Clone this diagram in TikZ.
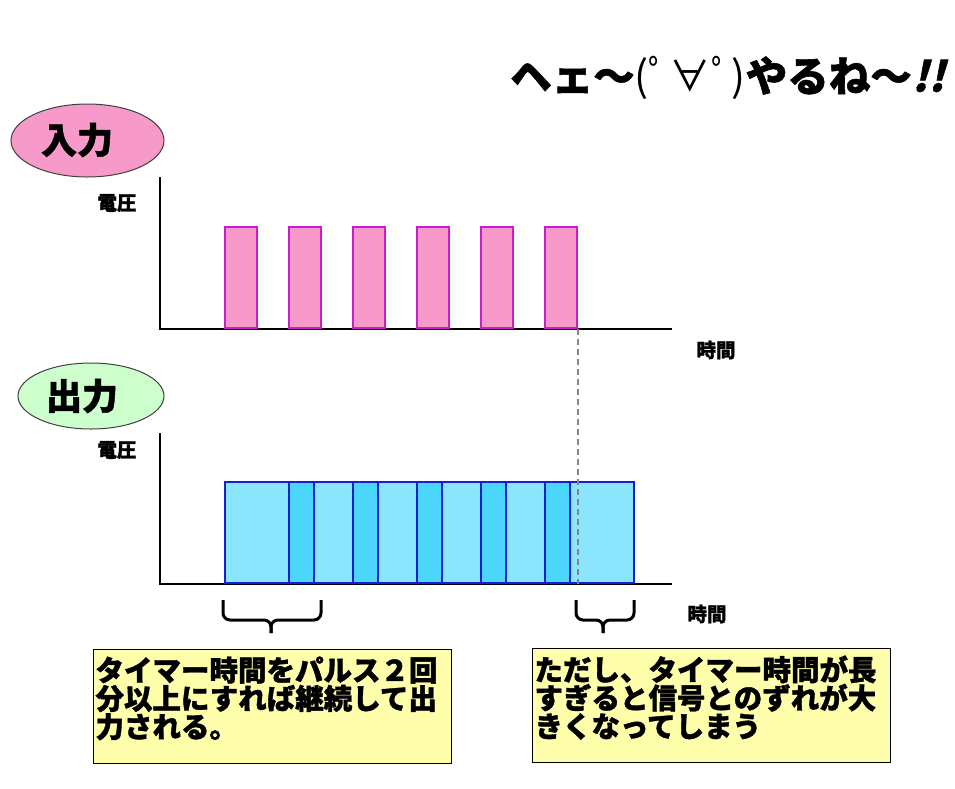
\documentclass[tikz,border=0pt]{standalone}
\usepackage{fontspec}
\setmainfont{Noto Sans CJK JP}[BoldFeatures={FakeBold=1.3}]
\newfontfamily\bangfont{Noto Sans CJK JP}[BoldFeatures={FakeSlant=0.25,FakeBold=1.3}]
\usetikzlibrary{shapes.geometric}

\definecolor{pulsepink}{rgb}{0.97,0.60,0.79}
\definecolor{pulseedge}{rgb}{0.78,0.12,0.80}
\definecolor{outcyan}{rgb}{0.00,0.78,0.98}
\definecolor{outedge}{rgb}{0.08,0.12,0.86}
\definecolor{notefill}{rgb}{1.00,1.00,0.67}
\definecolor{bubblegreen}{rgb}{0.80,1.00,0.80}
\definecolor{guidegray}{rgb}{0.52,0.52,0.52}

\newcommand{\notetext}[1]{\parbox[c][104pt][t]{354pt}{\bfseries\fontsize{28.5}{28.3}\selectfont\vspace*{2pt}#1}}

\tikzset{
  bubble/.style={ellipse, draw=black!75, line width=1pt, inner sep=0pt},
  bubbletext/.style={font=\bfseries\fontsize{36}{36}\selectfont, inner sep=0pt},
  axisline/.style={line width=2pt, black},
  axislabel/.style={font=\bfseries\fontsize{19.5}{19.5}\selectfont, inner sep=0pt},
  inpulse/.style={rectangle, fill=pulsepink, draw=pulseedge, line width=1.6pt,
    minimum width=32pt, minimum height=101pt, inner sep=0pt, anchor=south west},
  outfill/.style={rectangle, fill=outcyan, fill opacity=0.46, line width=0pt,
    minimum width=89pt, minimum height=101pt, inner sep=0pt, anchor=south west},
  outedge/.style={rectangle, draw=outedge, line width=2pt,
    minimum width=89pt, minimum height=101pt, inner sep=0pt, anchor=south west},
  guide/.style={guidegray, line width=1.8pt, dash pattern=on 6pt off 4pt},
  bracket/.style={line width=3pt, rounded corners=7pt},
  note/.style={rectangle, draw=black, line width=1pt, fill=notefill,
    inner xsep=2pt, inner ysep=5pt, anchor=north west}
}

\begin{document}
\begin{tikzpicture}[x=1pt,y=-1pt]
\useasboundingbox (0,0) rectangle (955,788);

% title
\node[inner sep=0pt, font=\bfseries\fontsize{41.5}{41.5}\selectfont] (title) at (727.5,78)
  {ヘェ～{\mdseries(ﾟ∀ﾟ)}やるね～{\bangfont !!}};

% input
\node[bubble, fill=pulsepink, minimum width=153pt, minimum height=73pt] (inBubble) at (87.5,140.5) {};
\node[bubbletext] (inText) at (77,140) {入力};
\coordinate (inTop) at (160,177);
\coordinate (inO) at (160,329);
\coordinate (inEnd) at (672,329);
\draw[axisline] (inTop) -- (inO) -- (inEnd);
\node[axislabel] (inVolt) at (117,203) {電圧};
\node[axislabel] (inTime) at (716,350) {時間};
\foreach \i in {1,...,6}
  \node[inpulse] (p\i) at (160+64*\i,329) {};

% output
\node[bubble, fill=bubblegreen, minimum width=146pt, minimum height=66pt] (outBubble) at (91,396) {};
\node[bubbletext] (outText) at (82,396) {出力};
\coordinate (outTop) at (160,433);
\coordinate (outO) at (160,584);
\coordinate (outEnd) at (672,584);
\draw[axisline] (outTop) -- (outO) -- (outEnd);
\node[axislabel] (outVolt) at (117,450) {電圧};
\node[axislabel] (outTime) at (707,614) {時間};
\foreach \i in {1,...,6}
  \node[outfill] (qf\i) at (160+64*\i,584) {};
\foreach \i in {1,...,6}
  \node[outedge] (q\i) at (160+64*\i,584) {};

% guide from last input pulse
\draw[guide] (p6.south east) -- (p6.south east |- outO);

% brackets
\draw[bracket] (223,600) -- (223,620) -- (271,620) -- (271,633);
\draw[bracket] (321,600) -- (321,620) -- (271,620) -- (271,633);
\draw[bracket] (576,600) -- (576,620) -- (603,620) -- (603,633);
\draw[bracket] (634,600) -- (634,620) -- (603,620) -- (603,633);

% notes
\node[note] (noteLeft) at (93,649) {\notetext{タイマー時間をパルス２回\\分以上にすれば継続して出\\力される。}};
\node[note] (noteRight) at (532,648) {\notetext{ただし、タイマー時間が長\\すぎると信号とのずれが大\\きくなってしまう}};
\end{tikzpicture}
\end{document}
